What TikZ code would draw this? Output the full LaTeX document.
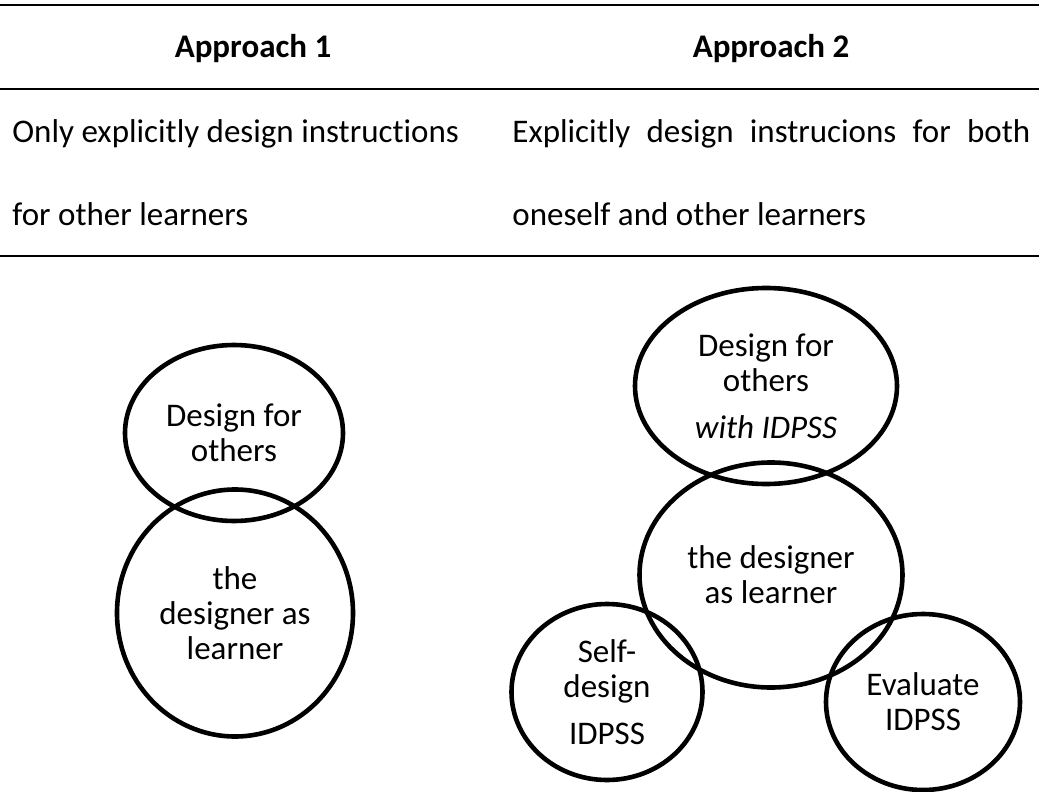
\documentclass[tikz,border=0pt]{standalone}
\usepackage{fontspec}
\setmainfont{Carlito}[Ligatures=NoCommon]
\usetikzlibrary{shapes.geometric}

\tikzset{
  ring/.style={draw,ellipse,line width=2.3pt,inner sep=0pt,align=center,
    font=\fontsize{16.5}{17.5}\selectfont},
  cell/.style={inner sep=0pt,anchor=base west,font=\fontsize{16.5}{17.5}\selectfont},
  head/.style={inner sep=0pt,anchor=base,font=\fontsize{16.5}{17.5}\selectfont\bfseries},
  tabrule/.style={line width=0.8pt}
}

\begin{document}
\begin{tikzpicture}[x=0.5pt,y=-0.5pt]
\useasboundingbox (0,0) rectangle (1039,792);

% table
\coordinate (topW) at (0,5);   \coordinate (topE) at (1039,5);
\coordinate (midW) at (0,89);  \coordinate (midE) at (1039,89);
\coordinate (botW) at (0,256); \coordinate (botE) at (1039,256);
\draw[tabrule] (topW) -- (topE);
\draw[tabrule] (midW) -- (midE);
\draw[tabrule] (botW) -- (botE);

\node[head] (headA) at (253,58) {Approach 1};
\node[head] (headB) at (771,58) {Approach 2};

\node[cell] (rowA1) at (12,142) {Only explicitly design instructions};
\node[cell] (rowA2) at (12,225) {for other learners};
\node[cell] (rowB1) at (512,142) {\makebox[259pt][s]{Explicitly design instrucions for both}};
\node[cell] (rowB2) at (512,225) {oneself and other learners};

% approach 1
\node[ring,minimum width=109pt,minimum height=88pt] (othersA) at (234,433)
  {Design for\\others};
\node[ring,minimum width=118pt,minimum height=123.5pt] (learnerA) at (235,613)
  {the\\designer as\\learner};

% approach 2
\node[ring,minimum width=131pt,minimum height=98pt] (othersB) at (766,386)
  {Design for\\others\\[6pt]\textit{with IDPSS}};
\node[ring,minimum width=131.5pt,minimum height=112.5pt] (learnerB) at (771,575)
  {the designer\\as learner};
\node[ring,minimum width=95.5pt,minimum height=88pt] (selfB) at (607,692)
  {Self-\\design\\[6pt]IDPSS};
\node[ring,minimum width=97pt,minimum height=88pt] (evalB) at (923,702)
  {Evaluate\\IDPSS};

\end{tikzpicture}
\end{document}
